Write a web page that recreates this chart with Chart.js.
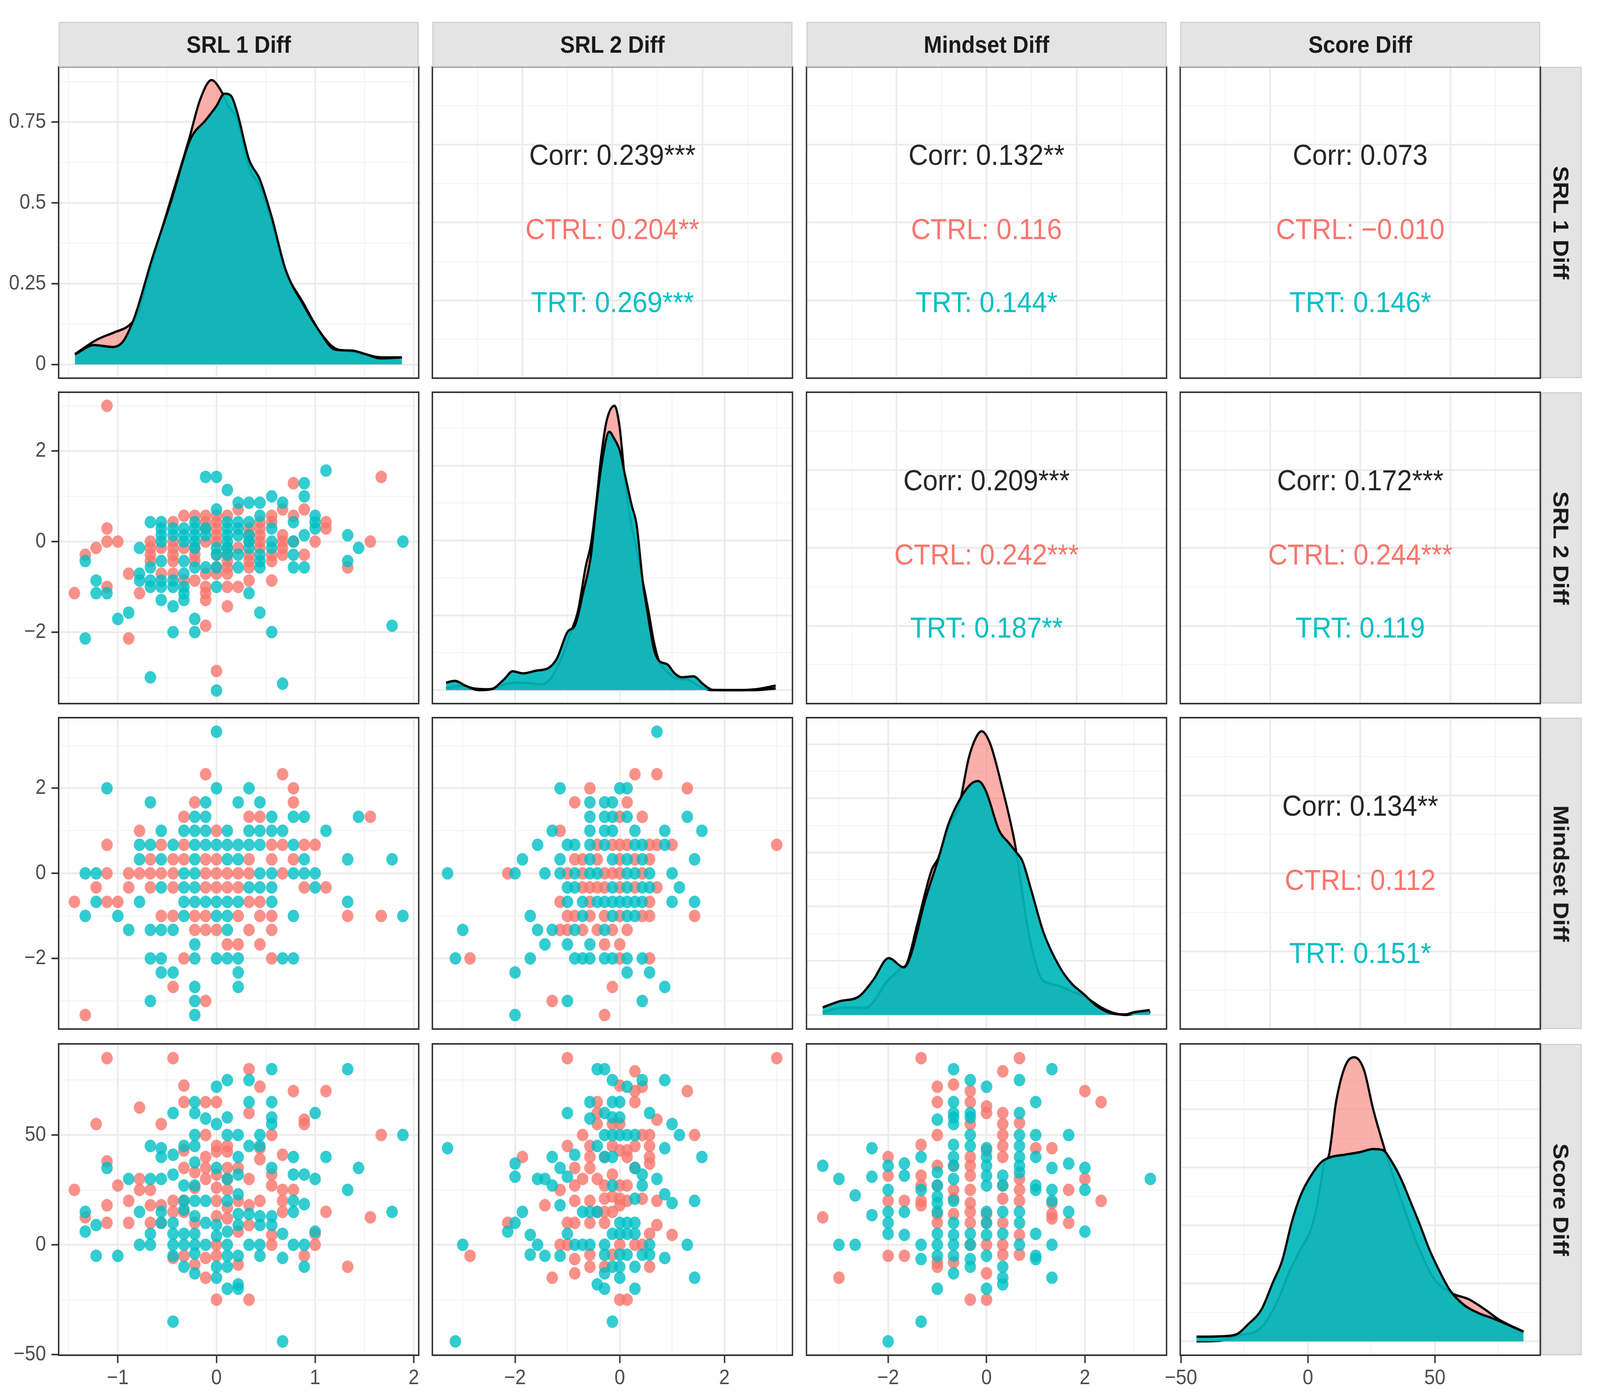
<!DOCTYPE html>
<html>
<head>
<meta charset="utf-8">
<script src="https://cdn.jsdelivr.net/npm/chart.js@4.4.1/dist/chart.umd.min.js"></script>
<style>
  html, body { margin: 0; padding: 0; background: #fff; overflow: hidden; }
  #fig { position: relative; width: 4448px; height: 3581px; overflow: hidden; transform-origin: 0 0;
         font-family: "Liberation Sans", Arial, sans-serif; }
  #fig canvas { position: absolute; }
  .strip { position: absolute; box-sizing: border-box; background: #e4e4e4; border: 3px solid #cfcfcf;
           display: flex; align-items: center; justify-content: center; font-weight: bold; font-size: 61px; color: #1a1a1a; }
  .strip.right span { transform: rotate(90deg); white-space: nowrap; }
  .cor { position: absolute; text-align: center; font-size: 75px; line-height: 76px; white-space: nowrap; }
</style>
</head>
<body>
<div id="fig"></div>
<script>
// ---- variables / axes ----
const varNames = ['SRL 1 Diff', 'SRL 2 Diff', 'Mindset Diff', 'Score Diff'];
const varMin = [-1.6, -3.58, -3.66, -50.3];
const varMax = [2.05, 3.3, 3.66, 91.5];
const varMajor = [[-1, 0, 1, 2], [-2, 0, 2], [-2, 0, 2], [-50, 0, 50]];
const varMinor = [[-1.5, -0.5, 0.5, 1.5], [-3, -1, 1, 3], [-3, -1, 1, 3], [-25, 25, 75]];

// density y scales on the diagonal
const densMin = [-0.0425, -0.045, -0.026, -0.0012];
const densMax = [0.921, 0.995, 0.549, 0.02565];
const densMajor = [[0, 0.25, 0.5, 0.75], [0, 0.25, 0.5, 0.75], [0, 0.1, 0.2, 0.3, 0.4, 0.5], [0, 0.005, 0.01, 0.015, 0.02]];
const densMinor = [[0.125, 0.375, 0.625, 0.875], [0.125, 0.375, 0.625, 0.875], [0.05, 0.15, 0.25, 0.35, 0.45], [0.0025, 0.0075, 0.0125, 0.0175, 0.0225]];

// ---- correlation panels ----
const corPanels = [[0, 1], [0, 2], [0, 3], [1, 2], [1, 3], [2, 3]];
const corAll  = ['0.239***', '0.132**', '0.073', '0.209***', '0.172***', '0.134**'];
const corCtrl = ['0.204**', '0.116', '\u22120.010', '0.242***', '0.244***', '0.112'];
const corTrt  = ['0.269***', '0.144*', '0.146*', '0.187**', '0.119', '0.151*'];

// ---- densities ----
const diag1CtrlX = [-1.435,-1.21,-1.03,-0.89,-0.8,-0.63,-0.455,-0.28,-0.165,-0.05,0.04,0.12,0.21,0.33,0.44,0.56,0.7,0.88,1.05,1.2,1.37,1.52,1.66,1.88];
const diag1CtrlY = [0.032,0.077,0.10,0.12,0.155,0.34,0.518,0.695,0.82,0.88,0.85,0.80,0.76,0.61,0.55,0.44,0.29,0.19,0.10,0.05,0.04,0.03,0.022,0.022];
const diag1TrtX  = [-1.435,-1.24,-1.05,-0.95,-0.83,-0.66,-0.455,-0.267,-0.107,0.0,0.08,0.15,0.21,0.33,0.44,0.56,0.70,0.88,1.05,1.2,1.37,1.52,1.66,1.88];
const diag1TrtY  = [0.031,0.06,0.054,0.07,0.147,0.32,0.51,0.695,0.757,0.80,0.838,0.83,0.78,0.634,0.572,0.456,0.294,0.185,0.10,0.046,0.043,0.031,0.019,0.022];

const diag2CtrlX = [-3.32,-3.0,-2.8,-2.5,-2.2,-2.0,-1.7,-1.5,-1.3,-1.1,-0.95,-0.8,-0.65,-0.55,-0.45,-0.35,-0.25,-0.1,0.0,0.1,0.2,0.3,0.44,0.55,0.65,0.75,0.9,1.1,1.3,1.5,1.75,2.2,2.6,2.98];
const diag2CtrlY = [0.006,0.015,0.006,0.003,0.019,0.025,0.023,0.019,0.044,0.113,0.188,0.263,0.413,0.488,0.625,0.788,0.9,0.95,0.875,0.7,0.575,0.488,0.363,0.263,0.163,0.098,0.063,0.038,0.035,0.015,0,0,0.003,0.015];
const diag2TrtX  = [-3.32,-3.15,-2.95,-2.7,-2.45,-2.2,-2.05,-1.85,-1.6,-1.35,-1.2,-1.0,-0.85,-0.7,-0.55,-0.45,-0.35,-0.2,-0.1,0.0,0.1,0.23,0.32,0.44,0.55,0.65,0.75,0.91,1.05,1.18,1.41,1.6,1.77,2.2,2.6,2.98];
const diag2TrtY  = [0.025,0.031,0.015,0,0.003,0.038,0.063,0.056,0.065,0.075,0.106,0.194,0.219,0.325,0.45,0.613,0.75,0.863,0.838,0.8,0.719,0.616,0.555,0.363,0.238,0.138,0.098,0.086,0.056,0.043,0.046,0.019,0.001,0,0,0.006];

const diag3CtrlX = [-3.33,-2.9,-2.45,-2.25,-2.06,-1.75,-1.62,-1.4,-1.11,-0.99,-0.78,-0.55,-0.36,-0.21,-0.1,0.07,0.31,0.59,0.72,0.85,0.97,1.11,1.3,1.5,1.75,1.97,2.16,2.35,2.54,2.82,3.05,3.33];
const diag3CtrlY = [0.005,0.014,0.013,0.03,0.058,0.085,0.095,0.17,0.269,0.288,0.345,0.39,0.475,0.513,0.524,0.502,0.423,0.31,0.23,0.155,0.105,0.068,0.058,0.053,0.043,0.035,0.024,0.013,0.005,0,0.003,0.005];
const diag3TrtX  = [-3.33,-3.0,-2.58,-2.3,-1.99,-1.68,-1.54,-1.26,-0.97,-0.78,-0.55,-0.31,-0.17,-0.02,0.26,0.45,0.59,0.73,0.92,1.16,1.49,1.73,1.97,2.25,2.54,2.82,3.0,3.32];
const diag3TrtY  = [0.014,0.025,0.035,0.065,0.105,0.088,0.11,0.208,0.291,0.351,0.397,0.427,0.432,0.415,0.34,0.318,0.302,0.284,0.227,0.152,0.088,0.058,0.039,0.016,0.003,0.001,0.005,0.009];

const diag4CtrlX = [-43.9,-35,-27.5,-18.3,-11.9,-7.3,-2.75,0.9,3.7,6.4,8.3,11.0,14.7,18.3,22.0,25.7,30.3,33.9,38.5,43.1,49.5,56.9,63.3,69.7,75.2,84.9];
const diag4CtrlY = [0,0.00005,0.0005,0.0012,0.00353,0.00603,0.00798,0.0095,0.01185,0.01533,0.0161,0.02055,0.02375,0.0245,0.02345,0.02,0.0165,0.014,0.01108,0.00835,0.00545,0.00413,0.00363,0.00275,0.00188,0.00083];
const diag4TrtX  = [-43.9,-35,-30,-27.5,-23.9,-18.3,-13.8,-10.1,-6.4,-2.8,0.9,5.5,9.2,14.7,20.2,25.7,29.4,33.0,36.7,40.4,44.0,47.7,51.4,56.0,61.5,67.0,72.5,78.0,84.9];
const diag4TrtY  = [0.0004,0.000425,0.0005,0.000675,0.0014,0.00275,0.00508,0.007,0.01025,0.01263,0.01418,0.0155,0.0159,0.0161,0.0163,0.01658,0.0165,0.0155,0.01398,0.01203,0.0101,0.00798,0.00623,0.00438,0.00313,0.00245,0.002,0.0015,0.00083];

// ---- scatter: SRL 2 (y) vs SRL 1 (x), rows of [y, [x...]] ----
const srl2Srl1Ctrl = [
  [3.0,[-1.11]],[1.43,[1.67]],[1.29,[0.78]],[0.71,[0.22,0.67,0.89]],
  [0.57,[-0.33,-0.22,-0.11,0,0.11,0.56,0.78]],[0.43,[-0.44,-0.11,0,0.44,0.56,1.11]],
  [0.29,[-1.11,-0.11,0,0.33,0.44,1.11]],[0.14,[0,0.33,0.44,0.67]],
  [0,[-1.11,-1.0,-0.67,-0.44,-0.11,0,0.33,0.44,0.67,0.78,1.0,1.56]],
  [-0.14,[-1.22,-0.67,-0.56,-0.44,-0.33,-0.22,0.11,0.22,0.44,0.67]],
  [-0.29,[-1.33,-0.67,-0.44,-0.22,0,0.11,0.33,0.56,0.67,0.89]],
  [-0.43,[-0.67,-0.44,-0.22,0.11,0.33,0.56]],[-0.57,[0,0.11,0.33,1.33]],
  [-0.71,[-0.89,-0.56,-0.44,-0.11,0,0.11]],[-0.86,[-0.33,-0.22,0.33,0.56]],
  [-1.0,[-1.11,-0.11,0.11,0.22]],[-1.14,[-1.44,-0.78,-0.11]],[-1.29,[-0.11]],
  [-1.43,[0.11]],[-1.86,[-0.11]],[-2.14,[-0.89]],[-2.86,[0]]
];
const srl2Srl1Trt = [
  [1.57,[1.11]],[1.43,[-0.11,0]],[1.29,[0.89]],[1.14,[0.11]],[1.0,[0.56,0.89]],
  [0.86,[0.22,0.33,0.44,0.67]],[0.71,[0]],[0.57,[0.44,1.0]],
  [0.43,[-0.67,-0.56,-0.22,0.11,0.22,0.33,0.78,1.0]],
  [0.29,[-0.56,-0.44,-0.33,-0.22,-0.11,0.11,0.22,0.56,1.0]],
  [0.14,[-0.56,-0.44,-0.33,-0.22,-0.11,0.11,0.22,0.33,0.89,1.33]],
  [0,[-0.56,-0.33,-0.22,0.11,0.33,0.56,0.78,1.89]],
  [-0.14,[-0.78,-0.22,0,0.11,0.33,0.56,1.44]],[-0.29,[0,0.11,0.22,0.44,0.78]],
  [-0.43,[-1.33,-0.56,-0.33,0.44,1.33]],[-0.57,[-0.67,-0.22,-0.11,0,0.22,0.44,0.78,0.89]],
  [-0.71,[-0.78,-0.33]],[-0.86,[-1.22,-0.78,-0.67,-0.56,-0.44]],
  [-1.0,[-0.67,-0.56,-0.44,-0.33,0]],[-1.14,[-1.22,-1.11,-0.33,0.33]],
  [-1.29,[-0.56,-0.33]],[-1.43,[-0.44]],[-1.57,[-0.89,0.44]],[-1.71,[-1.0,-0.22]],
  [-1.86,[1.78]],[-2.0,[-0.44,-0.22,0.56]],[-2.14,[-1.33]],[-3.0,[-0.67]],[-3.14,[0.67]],[-3.29,[0]]
];

// ---- scatter: Mindset (y) vs SRL 1 (x) ----
const mindSrl1Ctrl = [
  [2.33,[-0.11,0.67]],[2.0,[0.78]],[1.67,[-0.22,0.78]],[1.33,[-0.33,0.33,0.44,1.56]],[1.0,[-0.78,0]],
  [0.67,[-1.11,-0.56,-0.33,0.56,0.67,0.89,1.0]],[0.33,[-0.67,-0.44,-0.33,-0.11,0,0.33,0.56,0.78]],
  [0,[-1.11,-0.89,-0.78,-0.67,-0.56,-0.44,-0.11,0,0.11,0.22,0.33,0.67]],
  [-0.33,[-1.22,-0.89,-0.67,-0.44,-0.11,0,0.11,0.22,0.89,1.11]],
  [-0.67,[-1.44,-1.11,-1.0,0.33,0.44]],[-1.0,[-0.56,-0.44,-0.22,-0.11,0.22,0.44,0.56,1.33,1.67]],
  [-1.33,[-0.22,-0.11,0,0.33,0.56]],[-1.67,[0.11,0.22,0.44]],[-2.0,[-0.33,0.56]],
  [-2.67,[-0.44]],[-3.0,[-0.11]],[-3.33,[-1.33]]
];
const mindSrl1Trt = [
  [3.33,[0]],[2.0,[-1.11,0,0.33]],[1.67,[-0.67,-0.11,0.22,0.44]],[1.33,[-0.22,-0.11,0.56,0.78,0.89,1.44]],
  [1.0,[-0.56,-0.33,-0.22,-0.11,0.11,0.33,0.44,0.56,0.67,1.11]],
  [0.67,[-0.78,-0.67,-0.44,-0.22,-0.11,0,0.11,0.22,0.33,0.44,0.78]],
  [0.33,[-0.78,-0.56,-0.22,0.11,0.22,0.89,1.33,1.78]],
  [0,[-1.33,-1.22,-0.33,-0.22,0.44,0.56,0.78,0.89,1.0]],
  [-0.33,[-0.56,-0.33,-0.22,0.33,0.44,0.56,1.0]],
  [-0.67,[-1.22,-0.78,-0.33,-0.22,-0.11,0,0.11,0.22,0.56,1.33]],
  [-1.0,[-1.33,-1.0,-0.33,0,0.11,0.78,1.89]],[-1.33,[-0.89,-0.67,-0.56,-0.44,0.11]],
  [-1.67,[-0.22]],[-2.0,[-0.67,-0.56,-0.22,0,0.11,0.22,0.67,0.78]],[-2.33,[-0.56,-0.44,0.22]],
  [-2.67,[-0.22,0.22]],[-3.0,[-0.67,-0.22]],[-3.33,[-0.22]]
];

// ---- scatter: Mindset (y) vs SRL 2 (x) ----
const mindSrl2Ctrl = [
  [2.33,[0.29,0.71]],[2.0,[-0.57,1.29]],[1.67,[-0.86,0.14]],[1.33,[0,0.43]],[1.0,[-1.14]],
  [0.67,[-0.43,-0.14,0,0.14,0.57,0.71,1.0,3.0]],[0.33,[-0.86,-0.71,-0.43,0,0.29,0.57]],
  [0,[-2.14,-1.0,-0.71,-0.29,-0.14,0,0.43]],[-0.33,[-0.71,-0.57,-0.43,-0.29,0,0.29,0.71]],
  [-0.67,[-1.14,-0.57,0.57]],[-1.0,[-1.0,-0.86,-0.57,-0.29,0,0.43,0.57,1.43]],
  [-1.33,[-1.14,-1.0,-0.71,-0.43,-0.14,0.14]],[-1.67,[-0.29,0]],[-2.0,[-2.86,0,0.57]],
  [-2.67,[-0.14]],[-3.0,[-1.29]],[-3.33,[-0.29]]
];
const mindSrl2Trt = [
  [3.33,[0.71]],[2.0,[-1.14,0,0.14]],[1.67,[-0.57,-0.29,-0.14]],[1.33,[-0.57,-0.29,-0.14,0.14,1.29]],
  [1.0,[-1.29,-0.57,-0.29,-0.14,0.29,0.86,1.57]],[0.67,[-1.57,-1.0,-0.86,-0.57,-0.29,0.29,0.43,0.86]],
  [0.33,[-1.86,-1.14,-0.57,-0.14,0.14,0.43,1.43]],
  [0,[-3.29,-2.0,-1.43,-1.14,-0.86,-0.57,-0.43,0.14,0.29,0.57,1.0]],
  [-0.33,[-1.0,-0.86,-0.14,0.14,0.43,0.57,1.14]],
  [-0.67,[-1.0,-0.71,-0.43,-0.29,-0.14,0,0.14,0.29,0.43,1.0,1.43]],
  [-1.0,[-1.71,-0.71,-0.14,0.14,0.29]],[-1.33,[-3.0,-1.57,-1.29,-0.86,-0.29]],
  [-1.67,[-1.43,-1.0,-0.57]],[-2.0,[-3.14,-1.71,-0.86,-0.71,-0.57,-0.29,-0.14,0.14,0.43]],
  [-2.33,[-2.0,0.14,0.57]],[-2.67,[0.86]],[-3.0,[-1.0,0.43]],[-3.33,[-2.0]]
];

// ---- scatter: Score (y) vs SRL 1 (x), [x, y] pairs ----
const scoreSrl1Ctrl = [
  [-1.11,85],[-0.44,85],[0.33,80],[-0.33,72.5],[0.44,72],[0.78,70],[1.11,70],[-0.78,62.5],[-0.33,65],[-0.11,65],
  [0,65],[0.33,60],[-1.22,55],[-0.56,55],[0.89,57],[0.89,55],[1.67,50],[0.56,50],[-0.11,50],[-1.11,38],
  [0.67,41],[-1.44,25],[-1.0,27],[-0.78,30],[-0.78,25],[-0.67,25],[-0.89,20],[-1.11,18],[-1.33,12.5],[-1.11,10],
  [-0.89,10],[-0.67,18],[-0.67,10],[1.11,15],[1.56,12.5],[1.0,5],[1.0,0],[0.89,-5],[1.33,-10],[0.56,4.5],
  [0.56,0],[0,0],[0,-5],[-0.22,-9],[-0.11,-6],[-0.11,-15],[0.22,-9],[0,-25],[0.33,-25],[-0.44,-6],[-0.33,-5],
  [0,45],[0.11,45],[0,42.5],[0.11,42.5],[0.11,35],[-0.11,40],[-0.11,35],[-0.11,30],[0.11,30],[0.11,25],
  [0.33,30],[0.33,18],[0.33,9],[0.44,44],[0.44,39],[0.56,32],[0.56,27],[0.67,25],[0.78,25],[0.67,20],
  [0.67,15],[-0.56,18],[-0.56,10],[-0.44,20],[-0.44,15],[-0.33,43],[-0.33,35],[-0.22,10],[0.22,35],[0.22,20],
  [0,32],[0,26],[0,20],[0,13],[0.11,17],[0.11,12],[0.22,6],[-0.22,33],[-0.22,26],[0.44,20],[-0.33,20],[-0.33,15]
];
const scoreSrl1Trt = [
  [0.56,80],[1.33,80],[0.11,75],[0.33,75],[0,72],[-0.22,65],[-0.22,60],[0.33,65],[0.56,65],[-0.44,60],
  [-0.11,57.5],[0.11,58],[0,55],[0.56,58],[0.56,55],[1.0,60],[1.89,50],[-0.22,50],[0.11,50],[0.22,50],
  [0.44,50],[-0.67,45],[-0.56,44],[-0.56,40],[-0.44,41],[-0.33,45],[-0.22,45],[-0.22,37.5],[0.33,45],[0.44,45],
  [0.22,40],[0.78,40],[1.11,40],[-1.11,35],[0,35],[0.56,35],[1.44,35],[-0.89,30],[-0.67,30],[-0.56,30],
  [-0.44,32],[0.78,32],[0.89,32],[1.0,30],[1.33,25],[-0.33,27],[-0.22,27],[0.11,30],[0.22,32],[-0.33,20],
  [-0.22,20],[-0.11,20],[0.11,20],[0.22,23],[-0.78,15],[-1.33,15],[-1.33,6],[-1.22,9],[0.78,20],[0.89,18.5],
  [0.78,15],[1.78,15],[-0.56,15],[-0.56,10],[-0.44,10],[-0.44,5],[-0.44,0],[-0.44,-5],[-0.33,16],[-0.33,5],
  [-0.33,0],[-0.22,13],[-0.22,5],[-0.22,0],[-0.22,-4],[-0.22,-13],[-0.11,10],[-0.11,0],[0,9],[0,4],
  [0,-10],[0,-15],[0.11,6],[0.11,0],[0.11,-5],[0.11,-10],[0.22,14],[0.22,9],[0.22,-5],[0.33,14],
  [0.33,0],[0.44,13],[0.44,9],[0.44,0],[0.44,-5],[0.56,13],[0.56,9],[0.67,5],[0.67,-6],[0.78,0],
  [0.89,0],[0.89,-10],[1.0,6],[-1.22,-5],[-1.0,-5],[-0.78,0],[-0.67,0],[-0.67,5],[-0.33,-10],[0.11,-20],
  [0.22,-18],[0.22,-20],[-0.44,-35],[0.67,-44]
];

// ---- scatter: Score (y) vs SRL 2 (x) ----
const scoreSrl2Ctrl = [
  [-1.0,85],[3.0,85],[0.29,79],[0,72.5],[0.43,72],[0.29,70],[1.29,70],[-0.43,65],[0.29,65],[-0.43,60],
  [-0.43,55],[0.71,57],[0,55],[-0.14,55],[-0.71,50],[0.43,50],[0.57,50],[1.43,50],[-1.0,45],[-1.86,40],
  [0.57,45],[0.57,40],[0.57,37],[-0.57,45],[-0.57,40],[0,43],[0.14,43],[-0.86,35],[-0.57,35],[0.14,40],
  [-0.14,32],[0.29,35],[-1.14,25],[-0.86,27],[-1.43,18],[-0.86,20],[-0.57,20],[-0.29,21],[0,21],[0.14,20],
  [0.43,21],[0.71,20],[-2.14,10],[-1.0,10],[-0.86,10],[-0.57,10],[-0.29,10],[0.71,9],[0.57,5],[1.0,4.5],
  [-1.14,0],[-1.0,0],[0,0],[0.29,0],[0.43,0],[-0.57,-4.5],[-0.57,-10],[-0.86,-6.5],[-0.86,-13],[-0.29,-10],
  [-0.14,-4.5],[0.57,-10],[-1.29,-15],[0,-25],[0.14,-25],[-2.86,-5],[-0.29,27],[-0.14,22],[0,18],[0.14,27],
  [-0.43,15],[-0.29,15],[-0.14,15],[0,27],[-0.29,40],[0.29,45],[-0.14,45],[-0.43,30],[-0.71,30]
];
const scoreSrl2Trt = [
  [-0.43,80],[-0.29,80],[-0.14,75],[0.14,72],[0.43,75],[0.86,75],[-0.57,65],[-0.14,65],[0,65],[-1.0,60],
  [-0.29,60],[-0.14,58],[0,58],[-0.57,57.5],[0.57,60],[1.0,55],[1.14,50],[-0.29,50],[-0.14,50],[0,50],
  [0.14,50],[0.29,50],[-3.29,44],[0.86,44],[-1.29,40],[-0.86,41],[-0.43,45],[-0.29,40],[-0.14,40],[1.57,40],
  [-2.0,37],[-2.0,31],[-1.57,30],[-1.43,30],[-1.14,35],[-1.0,31],[-1.29,27],[0.29,35],[0.43,32],[0.43,27],
  [0.29,21],[-0.14,27],[0.71,30],[0.86,23],[1.0,19],[1.43,20],[-1.14,18],[-1.86,15],[-2.0,10],[-2.14,6],
  [-1.71,4.5],[-1.57,0],[-1.71,-4.5],[-1.43,-5],[-1.14,-5],[-3.0,0],[-3.14,-44],[-0.71,15],[-0.57,15],[-0.43,15],
  [-1.0,5],[-0.86,0],[-0.71,0],[-0.57,0],[-0.29,0],[-0.29,-4.5],[-0.14,5],[0,5],[0.14,5],[0.29,5],
  [0,10],[0.14,10],[0.29,10],[0,-4.5],[0.14,-4.5],[0.29,-10],[0,-10],[-0.14,-10],[0.57,0],[0.57,-4.5],
  [0.43,-4.5],[0.86,-6],[1.29,0],[1.43,-15],[-0.29,-13],[0,-15],[-0.43,-18],[-0.29,-20],[0.29,-20],[-0.14,-35]
];

// ---- scatter: Score (y) vs Mindset (x) ----
const scoreMindCtrl = [
  [-1.33,85],[0.67,85],[0.33,79],[-1.0,72],[-1.0,65],[-0.67,73],[-0.33,70],[-0.33,65],[2.0,70],[2.33,65],
  [0,63],[0,60],[0.33,60],[0.33,55],[0.67,55.5],[-0.33,55],[-1.0,50],[0.33,50],[0.33,45],[0.33,40],
  [-1.33,45.5],[1.0,44],[1.33,44],[0,43],[-2.0,40],[-2.0,31.5],[-2.0,20],[-0.33,40],[-0.33,36],[-0.33,31.5],
  [-0.67,36],[-1.0,36],[-1.0,27],[-1.33,31.5],[-1.33,27],[-1.67,20],[-1.33,20],[-1.33,18],[0.67,30],[0.67,25],
  [0.67,20],[0.33,27],[0.33,21],[-0.33,25],[-0.33,19],[-0.33,15],[-0.33,10],[-0.67,25],[-0.67,21],[-0.67,14],
  [2.0,30],[1.67,25],[2.33,20],[1.33,19],[1.33,14],[1.33,12],[1.67,10],[-3.33,12.5],[-1.0,14],[-1.0,10],
  [0,14],[0,10],[0,0],[0.33,10],[0.33,0],[0.33,-4.5],[0.67,4.5],[0.67,-4.5],[-0.33,0],[-2.0,-5],
  [-1.67,-5],[-1.0,-8],[-1.0,-10],[-0.67,-8],[0,-13],[-3.0,-15],[-0.33,-25],[0,-25]
];
const scoreMindTrt = [
  [-0.67,80],[1.33,80],[-0.33,75],[0.67,75],[0,72],[-0.67,65],[-0.67,60],[-0.67,58],[-0.67,55],[1.0,65],
  [-0.33,60],[-0.33,58],[-1.0,57],[0.67,60],[-0.33,50],[-0.33,45],[0.67,50],[0.67,45],[1.0,50],[1.67,50],
  [-2.33,44],[-0.67,45.5],[0,44],[-1.33,40],[-0.67,40],[-0.67,36],[0,40],[0,36],[0,31.5],[0,27],
  [0.33,31.5],[0.33,27],[0.67,40],[0.67,36],[0.67,33],[1.0,40],[-3.33,36],[-2.0,36],[-1.67,37],[-1.67,31.5],
  [1.33,35],[1.67,37],[2.0,35],[-3.0,30],[-2.33,31],[-1.0,33],[-1.0,27],[-1.0,22],[-0.67,30],[-0.67,20],
  [-2.67,22.5],[-2.0,25],[-1.33,25],[1.0,27],[1.0,25],[1.33,25],[1.33,20],[2.0,25],[3.33,30],[-2.0,15],
  [-2.0,10],[-2.0,5],[-2.33,13.5],[-1.67,15],[-1.67,4.5],[-1.0,19],[-1.0,15],[-1.0,5],[-1.0,0],[-1.0,-5],
  [-0.67,10],[-0.67,4.5],[-0.67,0],[-0.67,-5],[-0.67,-13],[-0.33,5],[-0.33,0],[-0.33,-6.5],[-0.33,-10],[0,15],
  [0,10],[0,4.5],[0,-5],[0,-20],[0.33,15],[0.33,5],[0.33,-10],[0.33,-15],[0.33,-18],[0.67,15],
  [0.67,10],[0.67,0],[1.0,5],[1.0,-5],[1.0,-6.5],[1.33,0],[1.33,-15],[1.67,15],[2.0,6],[-3.0,0],
  [-2.67,0],[-1.33,0],[-1.33,-6.5],[-1.0,-20],[-1.33,-35],[-2.0,-44]
];

// ---- layout ----
const FIG_W = 4448, FIG_H = 3581;
const W = 1001, H = 797, M = 70, GUT_Y = 163, GUT_X = 112;
const colLeft = [163, 1202, 2242, 3281];
const rowTop = [171, 1004, 1837, 2672];
const corLineOffsets = [225, 415, 602];

const CTRL_PT = 'rgba(248,118,109,0.8)', TRT_PT = 'rgba(0,191,196,0.8)';
const CTRL_FILL = 'rgba(248,118,109,0.58)', TRT_FILL = 'rgba(0,182,186,0.92)';
const FONT = '"Liberation Sans", Arial, sans-serif';

const fig = document.getElementById('fig');

// keep the whole figure inside whatever viewport we actually get
function fitToWindow() {
  const sx = (window.innerWidth || FIG_W) / FIG_W;
  const sy = (window.innerHeight || FIG_H) / FIG_H;
  fig.style.transform = (Math.abs(sx - 1) < 1e-3 && Math.abs(sy - 1) < 1e-3) ? 'none' : `scale(${sx}, ${sy})`;
}
fitToWindow();
window.addEventListener('resize', fitToWindow);

const fromRows = list => list.flatMap(([y, xs]) => xs.map(x => ({ x, y })));
const fromPairs = list => list.map(([x, y]) => ({ x, y }));
const fromXY = (xs, ys) => xs.map((x, i) => ({ x, y: ys[i] }));
const has = (arr, v) => arr.some(a => Math.abs(a - v) < 1e-9);
const fmt = v => (v < 0 ? '\u2212' + Math.abs(v) : String(v));

const panelBorder = {
  id: 'panelBorder',
  afterDraw(chart) {
    const a = chart.chartArea, g = chart.ctx;
    g.save();
    g.strokeStyle = '#333333';
    g.lineWidth = 4;
    g.strokeRect(a.left, a.top, a.right - a.left, a.bottom - a.top);
    g.restore();
  }
};

function axis(pos, min, max, majors, minors, labelled) {
  const all = [...majors, ...minors].sort((a, b) => a - b);
  const isMajor = c => c.tick && has(majors, c.tick.value);
  return {
    type: 'linear', position: pos, min, max,
    afterBuildTicks: s => { s.ticks = all.map(v => ({ value: v })); },
    afterFit: s => {
      if (pos === 'left') s.width = labelled ? GUT_Y : 0;
      else s.height = labelled ? GUT_X : 0;
    },
    border: { display: false },
    grid: {
      color: c => isMajor(c) ? '#EBEBEB' : '#F3F3F3',
      lineWidth: c => isMajor(c) ? 4.5 : 2.5,
      drawTicks: labelled, tickLength: 20, tickWidth: 4,
      tickColor: c => isMajor(c) ? '#333333' : 'rgba(0,0,0,0)'
    },
    ticks: {
      display: labelled, autoSkip: false, maxRotation: 0, minRotation: 0,
      padding: pos === 'left' ? 15 : 8,
      color: '#4D4D4D', font: { family: FONT, size: 53 },
      callback: v => has(majors, v) ? fmt(v) : ''
    }
  };
}

function panel(r, c, datasets, xScale, yScale) {
  const extraL = c === 0 ? GUT_Y : 0, extraB = r === 3 ? GUT_X : 0;
  const cv = document.createElement('canvas');
  cv.width = W + 2 * M + extraL;
  cv.height = H + 2 * M + extraB;
  cv.style.left = (colLeft[c] - M - extraL) + 'px';
  cv.style.top = (rowTop[r] - M) + 'px';
  fig.appendChild(cv);
  new Chart(cv, {
    type: 'scatter',
    data: { datasets },
    options: {
      responsive: false, animation: false, events: [], devicePixelRatio: 1,
      layout: { padding: M },
      plugins: { legend: { display: false }, tooltip: { enabled: false } },
      scales: { x: xScale, y: yScale }
    },
    plugins: [panelBorder]
  });
}

const pointSet = (data, color) => ({
  data, backgroundColor: color, borderWidth: 0, pointRadius: 16, pointHoverRadius: 16, clip: 0
});
const densSet = (data, color) => ({
  data, showLine: true, fill: 'origin', backgroundColor: color, borderColor: '#000000',
  borderWidth: 6, pointRadius: 0, cubicInterpolationMode: 'monotone', clip: 0
});

const diagData = [
  [fromXY(diag1CtrlX, diag1CtrlY), fromXY(diag1TrtX, diag1TrtY)],
  [fromXY(diag2CtrlX, diag2CtrlY), fromXY(diag2TrtX, diag2TrtY)],
  [fromXY(diag3CtrlX, diag3CtrlY), fromXY(diag3TrtX, diag3TrtY)],
  [fromXY(diag4CtrlX, diag4CtrlY), fromXY(diag4TrtX, diag4TrtY)]
];
const scatterData = {
  '1,0': [fromRows(srl2Srl1Ctrl), fromRows(srl2Srl1Trt)],
  '2,0': [fromRows(mindSrl1Ctrl), fromRows(mindSrl1Trt)],
  '2,1': [fromRows(mindSrl2Ctrl), fromRows(mindSrl2Trt)],
  '3,0': [fromPairs(scoreSrl1Ctrl), fromPairs(scoreSrl1Trt)],
  '3,1': [fromPairs(scoreSrl2Ctrl), fromPairs(scoreSrl2Trt)],
  '3,2': [fromPairs(scoreMindCtrl), fromPairs(scoreMindTrt)]
};

for (let r = 0; r < 4; r++) {
  for (let c = 0; c < 4; c++) {
    const xLab = r === 3, yLab = c === 0;
    if (r === c) {
      const [ctrl, trt] = diagData[r];
      panel(r, c, [densSet(trt, TRT_FILL), densSet(ctrl, CTRL_FILL)],
        axis('bottom', varMin[c], varMax[c], varMajor[c], varMinor[c], xLab),
        axis('left', densMin[r], densMax[r], densMajor[r], densMinor[r], yLab));
    } else if (r > c) {
      const [ctrl, trt] = scatterData[r + ',' + c];
      panel(r, c, [pointSet(trt, TRT_PT), pointSet(ctrl, CTRL_PT)],
        axis('bottom', varMin[c], varMax[c], varMajor[c], varMinor[c], xLab),
        axis('left', varMin[r], varMax[r], varMajor[r], varMinor[r], yLab));
    } else {
      panel(r, c, [],
        axis('bottom', 0, 1, [0.25, 0.5, 0.75], [0.125, 0.375, 0.625, 0.875], false),
        axis('left', 0, 1, [0.25, 0.5, 0.75], [0.125, 0.375, 0.625, 0.875], false));
    }
  }
}

// correlation text
corPanels.forEach(([r, c], i) => {
  const lines = [['Corr: ' + corAll[i], '#262626'], ['CTRL: ' + corCtrl[i], '#F8766D'], ['TRT: ' + corTrt[i], '#00BFC4']];
  lines.forEach(([txt, col], k) => {
    const d = document.createElement('div');
    d.className = 'cor';
    d.style.left = colLeft[c] + 'px';
    d.style.width = W + 'px';
    d.style.top = (rowTop[r] + corLineOffsets[k] - 38) + 'px';
    d.style.color = col;
    d.textContent = txt;
    fig.appendChild(d);
  });
});

// strips
varNames.forEach((name, i) => {
  const top = document.createElement('div');
  top.className = 'strip';
  Object.assign(top.style, { left: colLeft[i] + 'px', top: '56px', width: W + 'px', height: '116px' });
  top.textContent = name;
  fig.appendChild(top);

  const side = document.createElement('div');
  side.className = 'strip right';
  Object.assign(side.style, { left: (colLeft[3] + W + 2) + 'px', top: rowTop[i] + 'px', width: '113px', height: H + 'px' });
  const s = document.createElement('span');
  s.textContent = name;
  side.appendChild(s);
  fig.appendChild(side);
});
</script>
</body>
</html>
